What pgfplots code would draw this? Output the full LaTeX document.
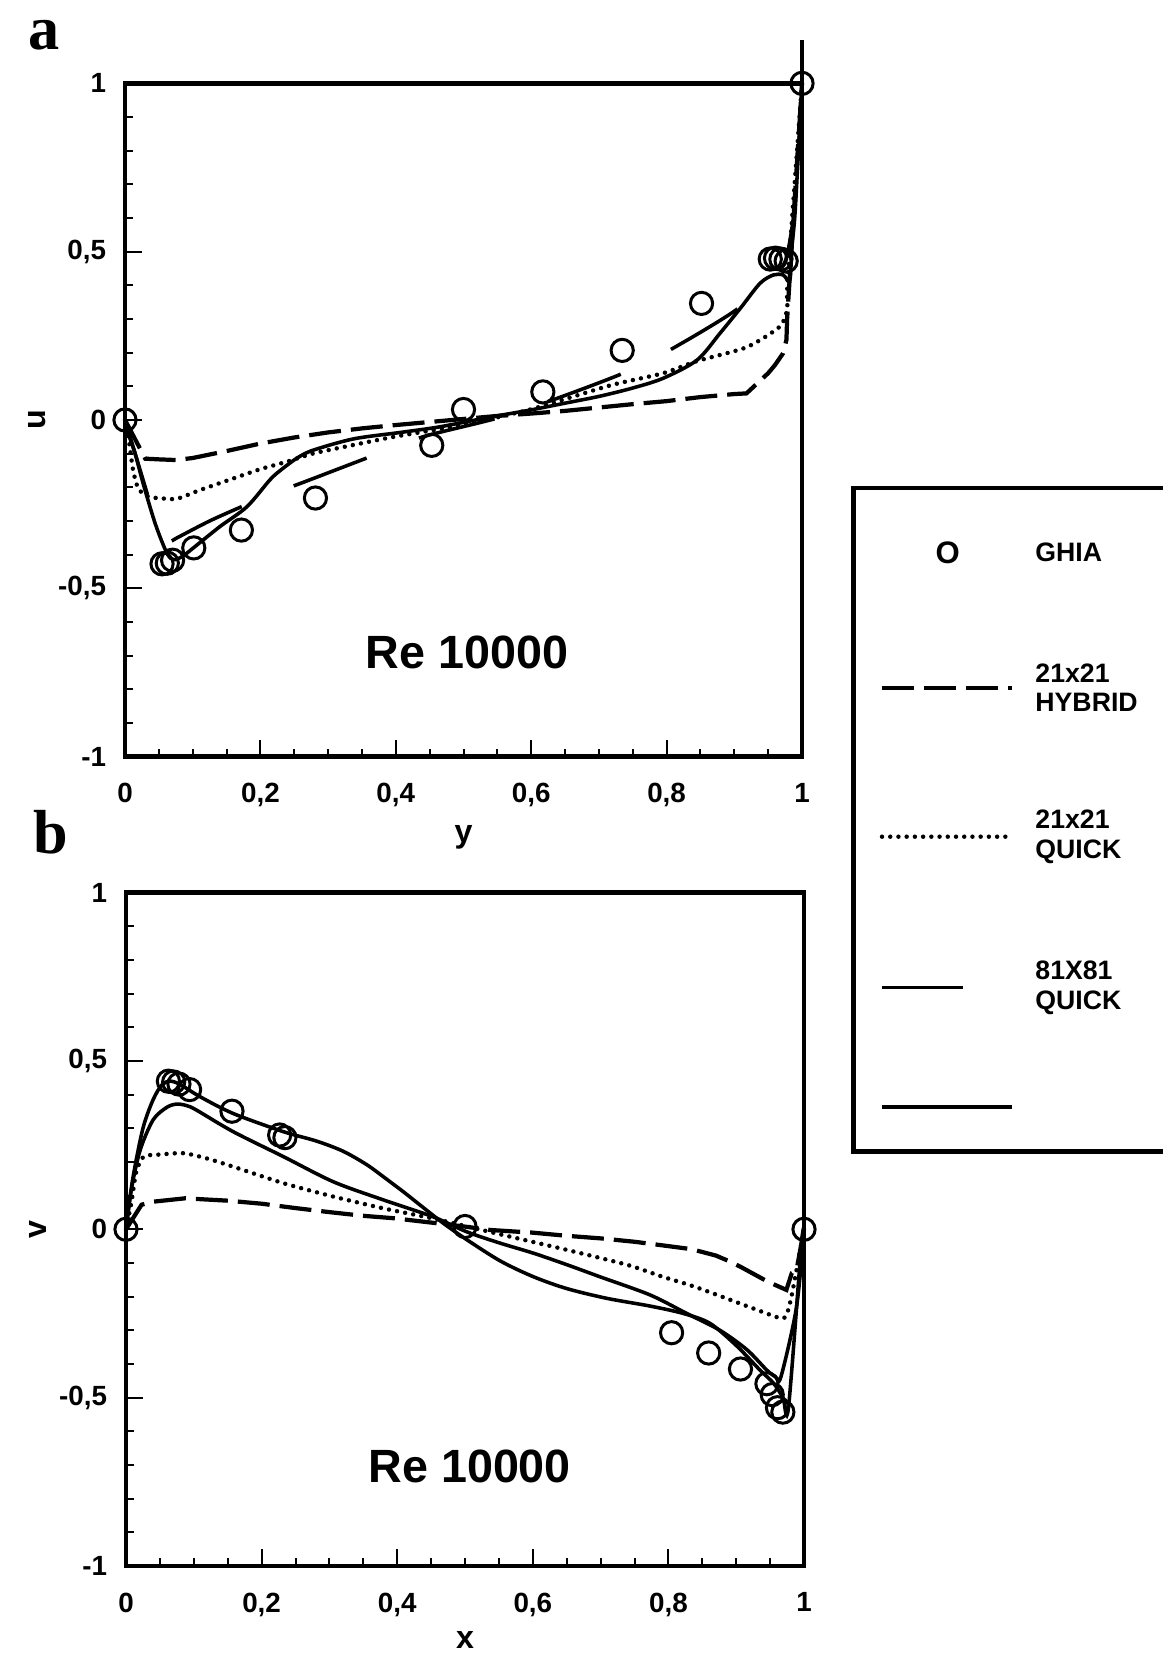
\documentclass[border=0pt]{standalone}
\usepackage{fontspec}
\setmainfont{Liberation Sans}
\newfontfamily\timesfont{Liberation Serif}
\usepackage{pgfplots}
\pgfplotsset{compat=1.18}
\pgfplotsset{
  cavity/.style={
    scale only axis,
    xmin=0, xmax=1, ymin=-1, ymax=1,
    clip=false,
    axis line style={line width=2pt},
    tick pos=left,
    tick align=inside,
    major tick length=7.6pt,
    minor tick length=3.6pt,
    every tick/.style={black, line width=0.9pt},
    xtick={0,0.2,0.4,0.6,0.8,1},
    xticklabels={0,{0,2},{0,4},{0,6},{0,8},1},
    ytick={-1,-0.5,0,0.5,1},
    yticklabels={-1,{-0,5},0,{0,5},1},
    minor x tick num=3,
    minor y tick num=4,
    tick label style={font=\fontsize{12.5}{14}\selectfont\bfseries},
    xticklabel style={yshift=-8.5pt},
    yticklabel style={xshift=-5pt},
    every axis x label/.style={at={(axis description cs:0.5,0)}, anchor=center, yshift=-36.5pt, font=\fontsize{14.5}{16}\selectfont\bfseries},
    every axis y label/.style={at={(axis description cs:0,0.5)}, anchor=center, xshift=-39.6pt, rotate=90, font=\fontsize{14.5}{16}\selectfont\bfseries},
  },
  ghia/.style={only marks, mark=o, mark size=5pt, mark options={line width=1.35pt, solid}, black},
  hybrid/.style={black, no marks, line width=1.9pt, line cap=butt, dash pattern=on 14.4pt off 4.5pt},
  quicktw/.style={black, no marks, line width=2pt, line cap=round, dash pattern=on 0pt off 3.7pt, smooth, tension=0.4},
  quickei/.style={black, no marks, line width=1.6pt, dash pattern=on 35.1pt off 25.2pt, smooth, tension=0.45},
  fine/.style={black, no marks, line width=1.6pt, solid, smooth, tension=0.5},
}
\begin{document}
\begin{tikzpicture}
\useasboundingbox (0,0) rectangle (522.9pt,745.65pt);
% ---------------- panel a ----------------
\begin{axis}[cavity, at={(56.25pt,405.18pt)}, anchor=south west,
  width=304.65pt, height=302.94pt, xlabel={y}, ylabel={u}]
\addplot[ghia] coordinates {
(0,0) (0.0547,-0.42735) (0.0625,-0.42537) (0.0703,-0.41657) (0.1016,-0.38000)
(0.1719,-0.32709) (0.2813,-0.23186) (0.4531,-0.07540) (0.5000,0.03111)
(0.6172,0.08344) (0.7344,0.20673) (0.8516,0.34635) (0.9531,0.47804)
(0.9609,0.48070) (0.9688,0.47783) (0.9766,0.47221) (1,1)};
\addplot[hybrid] coordinates {
(0,0) (0.03,-0.115) (0.05,-0.117) (0.075,-0.119) (0.1,-0.113) (0.153,-0.091)
(0.2,-0.07) (0.25,-0.052) (0.3,-0.037) (0.35,-0.025) (0.4,-0.015) (0.45,-0.006)
(0.5,0.003) (0.55,0.012) (0.606,0.02) (0.65,0.027) (0.7,0.037) (0.75,0.047)
(0.8,0.056) (0.85,0.068) (0.9,0.077) (0.918,0.079) (0.95,0.139) (0.96,0.163)
(0.972,0.198) (0.977,0.238) (0.978,0.3) (1,1)};
\addplot[quicktw] coordinates {
(0,0) (0.005,-0.05) (0.012,-0.15) (0.02,-0.205) (0.035,-0.228) (0.055,-0.233)
(0.077,-0.234) (0.111,-0.208) (0.161,-0.173) (0.2,-0.146) (0.239,-0.124)
(0.279,-0.099) (0.338,-0.074) (0.397,-0.05) (0.456,-0.03) (0.5,-0.013)
(0.55,0.008) (0.6,0.032) (0.65,0.062) (0.721,0.105) (0.795,0.139) (0.845,0.175)
(0.918,0.216) (0.967,0.277) (0.978,0.33) (0.979,0.42) (1,1)};
\addplot[quickei] coordinates {
(0,0) (0.015,-0.1) (0.03,-0.2) (0.045,-0.3) (0.058,-0.355) (0.068,-0.36)
(0.077,-0.35) (0.125,-0.3) (0.175,-0.255) (0.215,-0.22) (0.257,-0.19)
(0.365,-0.107) (0.44,-0.05) (0.549,0.005) (0.631,0.059) (0.736,0.139)
(0.805,0.208) (0.906,0.332) (0.95,0.435) (0.975,0.47) (0.99,0.65) (1,1)};
\addplot[fine] coordinates {
(0,0) (0.003,-0.03) (0.015,-0.1) (0.027,-0.19) (0.045,-0.31) (0.062,-0.396)
(0.072,-0.415) (0.085,-0.405) (0.101,-0.38) (0.14,-0.317) (0.18,-0.258)
(0.214,-0.178) (0.23,-0.149) (0.255,-0.112) (0.279,-0.089) (0.338,-0.056)
(0.407,-0.037) (0.46,-0.022) (0.505,-0.005) (0.549,0.012) (0.6,0.03) (0.65,0.05)
(0.7,0.07) (0.75,0.095) (0.795,0.124) (0.845,0.178) (0.879,0.258) (0.909,0.332)
(0.938,0.406) (0.958,0.431) (0.972,0.431) (0.982,0.416) (0.985,0.515)
(0.99,0.624) (1,1)};
\draw[line width=2pt] (axis cs:1,1) -- (axis cs:1,1.13);
\node[font=\fontsize{21}{24}\selectfont\bfseries] at (axis cs:0.505,-0.692) {Re 10000};
\end{axis}
% ---------------- panel b ----------------
\begin{axis}[cavity, at={(56.7pt,40.95pt)}, anchor=south west,
  width=305.1pt, height=303.03pt, xlabel={x}, ylabel={v},
  every axis x label/.append style={yshift=3pt}]
\addplot[ghia] coordinates {
(0,0) (0.0625,0.43983) (0.0703,0.43733) (0.0781,0.43124) (0.0938,0.41487)
(0.1563,0.35070) (0.2266,0.28003) (0.2344,0.27224) (0.5000,0.00831)
(0.8047,-0.30719) (0.8594,-0.36737) (0.9063,-0.41496) (0.9453,-0.45863)
(0.9531,-0.49099) (0.9609,-0.52987) (0.9688,-0.54302) (1,0)};
\addplot[hybrid] coordinates {
(0,0) (0.023,0.073) (0.04,0.082) (0.087,0.092) (0.105,0.09) (0.15,0.085)
(0.2,0.076) (0.25,0.063) (0.3,0.051) (0.35,0.04) (0.394,0.033) (0.45,0.02)
(0.5,0.008) (0.537,-0.002) (0.6,-0.01) (0.648,-0.019) (0.7,-0.027) (0.75,-0.037)
(0.8,-0.05) (0.834,-0.059) (0.87,-0.078) (0.891,-0.096) (0.906,-0.111)
(0.947,-0.156) (0.974,-0.18) (0.982,-0.13) (0.989,-0.121) (1,0)};
\addplot[quicktw] coordinates {
(0,0) (0.008,0.08) (0.015,0.17) (0.026,0.216) (0.05,0.222) (0.085,0.226)
(0.12,0.21) (0.158,0.186) (0.232,0.137) (0.306,0.097) (0.38,0.062) (0.453,0.032)
(0.552,-0.015) (0.65,-0.061) (0.74,-0.106) (0.79,-0.14) (0.835,-0.168)
(0.876,-0.198) (0.925,-0.235) (0.965,-0.264) (0.974,-0.255) (0.982,-0.195) (1,0)};
\addplot[fine] coordinates {
(0,0) (0.008,0.12) (0.021,0.236) (0.04,0.325) (0.06,0.362) (0.075,0.372)
(0.09,0.367) (0.104,0.354) (0.158,0.29) (0.232,0.216) (0.306,0.141) (0.38,0.087)
(0.453,0.037) (0.502,-0.007) (0.55,-0.04) (0.601,-0.071) (0.65,-0.105)
(0.699,-0.141) (0.773,-0.195) (0.827,-0.25) (0.876,-0.3) (0.916,-0.358)
(0.945,-0.418) (0.958,-0.438) (0.966,-0.438) (0.989,-0.23) (1,0)};
\addplot[fine] coordinates {
(0,0) (0.01,0.15) (0.025,0.3) (0.04,0.385) (0.053,0.429) (0.065,0.44) (0.08,0.43)
(0.109,0.394) (0.158,0.344) (0.232,0.29) (0.281,0.262) (0.32,0.232) (0.355,0.192)
(0.385,0.148) (0.41,0.11) (0.435,0.07) (0.468,0.018) (0.502,-0.03) (0.552,-0.094)
(0.601,-0.141) (0.65,-0.176) (0.709,-0.205) (0.773,-0.228) (0.822,-0.25)
(0.861,-0.279) (0.9,-0.345) (0.935,-0.418) (0.955,-0.457) (0.969,-0.5)
(0.977,-0.53) (0.996,-0.05) (1,0)};
\node[font=\fontsize{21}{24}\selectfont\bfseries] at (axis cs:0.507,-0.703) {Re 10000};
\end{axis}
% ---------------- panel letters and legend ----------------
\begin{scope}[x=0.45pt,y=0.45pt]
\node[font=\fontsize{28}{30}\selectfont\timesfont\bfseries] at (44.4,1622) {a};
\node[font=\fontsize{28}{30}\selectfont\timesfont\bfseries] at (50.7,824.6) {b};
\draw[line width=2pt] (853.6,1169) rectangle (1200,505.5);
\node[font=\fontsize{14}{16}\selectfont\bfseries, inner sep=0pt] at (947.6,1104.5) {O};
\node[anchor=west, inner sep=0pt, font=\fontsize{12}{13.3}\selectfont\bfseries] at (1035,1104.5) {GHIA};
\draw[black, line width=1.9pt, line cap=butt, dash pattern=on 14.4pt off 4.5pt] (882,969.3) -- (1012,969.3);
\node[anchor=west, inner sep=0pt, align=left, font=\fontsize{12}{13.3}\selectfont\bfseries] at (1035,969.3) {21x21\\HYBRID};
\draw[black, line width=2pt, line cap=round, dash pattern=on 0pt off 3.7pt] (882,820.3) -- (1012,820.3);
\node[anchor=west, inner sep=0pt, align=left, font=\fontsize{12}{13.3}\selectfont\bfseries] at (1035,820.3) {21x21\\QUICK};
\draw[black, line width=1.6pt] (882,669.3) -- (963.4,669.3);
\node[anchor=west, inner sep=0pt, align=left, font=\fontsize{12}{13.3}\selectfont\bfseries] at (1035,669.3) {81X81\\QUICK};
\draw[black, line width=1.6pt] (882,549.9) -- (1012,549.9);
\end{scope}
\end{tikzpicture}
\end{document}
